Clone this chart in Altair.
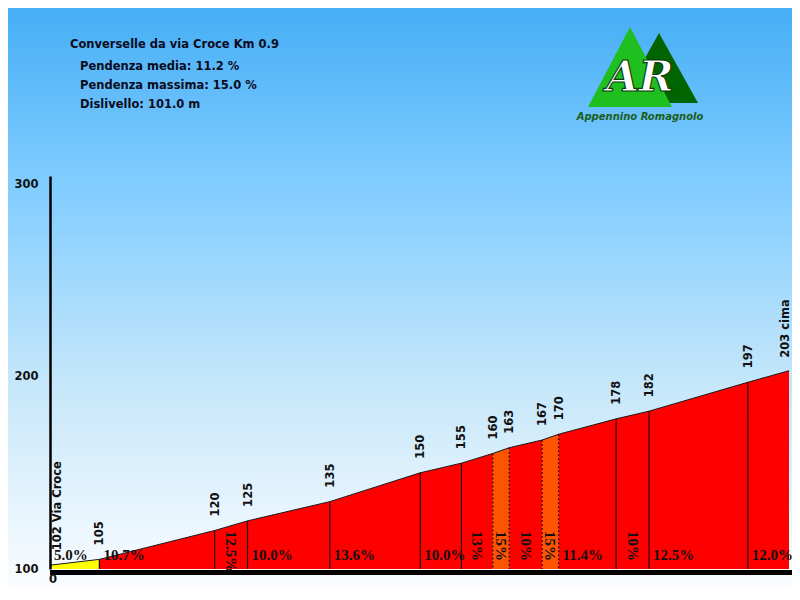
import altair as alt
import pandas as pd

# ---------------- data ----------------
dist_m = [0, 60, 200, 240, 340, 450, 500, 538, 558, 598, 618, 688, 728, 848, 898]
elev = [102, 105, 120, 125, 135, 150, 155, 160, 163, 167, 170, 178, 182, 197, 203]
elev_labels = ["102 Via Croce", "105", "120", "125", "135", "150", "155", "160",
               "163", "167", "170", "178", "182", "197", "203 cima"]
grad_values = [5.0, 10.7, 12.5, 10.0, 13.6, 10.0, 13, 15, 10, 15, 11.4, 10, 12.5, 12.0]
grad_labels = ["5.0%", "10.7%", "12.5%", "10.0%", "13.6%", "10.0%", "13%", "15%",
               "10%", "15%", "11.4%", "10%", "12.5%", "12.0%"]
y_ticks = [100, 200, 300]
x_tick_label = "0"
info_lines = ["Converselle da via Croce Km 0.9", "Pendenza media: 11.2 %",
              "Pendenza massima: 15.0 %", "Dislivello: 101.0 m"]
logo_big = "AR"
logo_small = "Appennino Romagnolo"

# ---------------- layout ----------------
PW, PH = 742, 393
PAD = {"left": 42, "top": 168, "right": 0, "bottom": 20}
xs = alt.Scale(domain=[0, 898 * PW / 739], nice=False, zero=False)
ys = alt.Scale(domain=[100, 304.16], nice=False, zero=False)
FONT = "DejaVu Sans"

yaxis = alt.Axis(
    values=y_ticks, ticks=False, tickSize=0, grid=False, domainColor="#000",
    domainWidth=2.5, labelFont=FONT, labelFontWeight="bold", labelFontSize=11.5,
    labelColor="#111", labelPadding=12, title=None, zindex=1)


def seg_color(g):
    if g < 7:
        return "#FFFF00"
    if g < 15:
        return "#FF0000"
    return "#FF5500"


seg_rows = []
for i in range(len(grad_values)):
    c = seg_color(grad_values[i])
    seg_rows.append({"seg": i, "x": dist_m[i], "y": elev[i], "base": 100, "fill": c})
    seg_rows.append({"seg": i, "x": dist_m[i + 1], "y": elev[i + 1], "base": 100, "fill": c})
seg_df = pd.DataFrame(seg_rows)

prof_df = pd.DataFrame({"x": dist_m, "y": elev})

sep_rows = []
for i in range(1, len(dist_m) - 1):
    dotted = grad_values[i - 1] >= 15 or grad_values[i] >= 15
    sep_rows.append({"x": dist_m[i], "y": elev[i], "base": 100, "dotted": dotted})
sep_df = pd.DataFrame(sep_rows)

lab_rows = []
for i in range(len(grad_values)):
    w = dist_m[i + 1] - dist_m[i]
    rot = w < 45
    lab_rows.append({"xs": dist_m[i], "xm": (dist_m[i] + dist_m[i + 1]) / 2,
                     "y": 100, "label": grad_labels[i], "rot": rot})
lab_df = pd.DataFrame(lab_rows)
hor_df = lab_df[~lab_df["rot"]]
rot_df = lab_df[lab_df["rot"]]

el_df = pd.DataFrame({"x": dist_m, "y": elev, "label": elev_labels})
one = pd.DataFrame({"a": [0]})

X = lambda f: alt.X(f, scale=xs, axis=None)
Y = lambda f: alt.Y(f, scale=ys, axis=yaxis)

grad = alt.LinearGradient(
    gradient="linear", x1=0, x2=0, y1=0, y2=1,
    stops=[alt.GradientStop(color="#46AEF5", offset=0),
           alt.GradientStop(color="#80CCFF", offset=0.3),
           alt.GradientStop(color="#C6E7FA", offset=0.65),
           alt.GradientStop(color="#FBFDFF", offset=1)])

bg = alt.Chart(one).mark_rect(color=grad).encode(
    x=alt.value(-PAD["left"]), x2=alt.value(PW),
    y=alt.value(-PAD["top"]), y2=alt.value(PH + PAD["bottom"]))

area = alt.Chart(seg_df).mark_area(interpolate="linear", opacity=1).encode(
    x=X("x:Q"),
    y=Y("y:Q"),
    y2="base:Q",
    detail="seg:N",
    color=alt.Color("fill:N", scale=None))

top_line = alt.Chart(prof_df).mark_line(color="#1a1a1a", strokeWidth=1).encode(
    x=X("x:Q"), y=Y("y:Q"))

sep_solid = alt.Chart(sep_df[~sep_df["dotted"]]).mark_rule(
    color="#2a0000", strokeWidth=1.2).encode(x=X("x:Q"), y=Y("y:Q"), y2="base:Q")
sep_dot = alt.Chart(sep_df[sep_df["dotted"]]).mark_rule(
    color="#2a0000", strokeWidth=1.2, strokeDash=[2, 2]).encode(
    x=X("x:Q"), y=Y("y:Q"), y2="base:Q")

bottom_bar = alt.Chart(one).mark_rule(color="#000", strokeWidth=5).encode(
    x=alt.value(0), x2=alt.value(PW), y=alt.value(PH + 3.5))

zero_lbl = alt.Chart(pd.DataFrame({"x": [0], "t": [x_tick_label]})).mark_text(
    font=FONT, fontWeight="bold", fontSize=11.5, color="#111", align="center",
    baseline="middle", dx=3).encode(x=X("x:Q"), y=alt.value(PH + 11), text="t:N")

hor_lbl = alt.Chart(hor_df).mark_text(
    font="Liberation Serif", fontWeight="bold", fontSize=15, color="#111",
    align="left", baseline="alphabetic", dx=4, dy=-9).encode(
    x=X("xs:Q"), y=Y("y:Q"), text="label:N")

rot_lbl = alt.Chart(rot_df).mark_text(
    font="Liberation Serif", fontWeight="bold", fontSize=15, color="#111",
    align="left", baseline="middle", angle=90, dx=-38).encode(
    x=X("xm:Q"), y=Y("y:Q"), text="label:N")

el_mid = alt.Chart(el_df.iloc[1:-1]).mark_text(
    font=FONT, fontWeight="bold", fontSize=11.5, color="#111",
    align="left", baseline="middle", angle=270, dx=14, dy=1).encode(
    x=X("x:Q"), y=Y("y:Q"), text="label:N")

el_first = alt.Chart(el_df.iloc[:1]).mark_text(
    font=FONT, fontWeight="bold", fontSize=11.5, color="#111",
    align="left", baseline="middle", angle=270, dx=15, dy=8).encode(
    x=X("x:Q"), y=Y("y:Q"), text="label:N")

el_last = alt.Chart(el_df.iloc[-1:]).mark_text(
    font=FONT, fontWeight="bold", fontSize=11.5, color="#111",
    align="left", baseline="middle", angle=270, dx=13, dy=-3).encode(
    x=X("x:Q"), y=Y("y:Q"), text="label:N")

info_layers = []
info_pos = [(20, -131), (30, -109), (30, -90), (30, -71)]
for t, (px, py) in zip(info_lines, info_pos):
    info_layers.append(alt.Chart(pd.DataFrame({"t": [t]})).mark_text(
        font=FONT, fontWeight="bold", fontSize=11.5, color="#0b0b1e",
        align="left", baseline="middle").encode(
        x=alt.value(px), y=alt.value(py), text="t:N"))

tri_dark = alt.Chart(one).mark_point(
    shape="M-1,1L0,-0.795L1,1Z", size=78 * 78, filled=True, color="#006400",
    opacity=1, strokeWidth=0).encode(x=alt.value(609), y=alt.value(-112))
tri_light = alt.Chart(one).mark_point(
    shape="M-1,1L0,-0.905L1,1Z", size=84 * 84, filled=True, color="#1FBF1F",
    opacity=1, strokeWidth=0).encode(x=alt.value(580), y=alt.value(-111))

ar_text = alt.Chart(pd.DataFrame({"t": [logo_big]})).mark_text(
    font="DejaVu Serif", fontWeight="bold", fontStyle="italic", fontSize=42,
    color="#FFFFFF", stroke="#0d3d0d", strokeWidth=1.2,
    align="center", baseline="middle").encode(
    x=alt.value(590), y=alt.value(-98), text="t:N")
ar_small = alt.Chart(pd.DataFrame({"t": [logo_small]})).mark_text(
    font=FONT, fontWeight="bold", fontStyle="italic", fontSize=10,
    color="#1b5e1b", align="center", baseline="middle").encode(
    x=alt.value(590), y=alt.value(-59), text="t:N")

chart = alt.layer(
    bg, area, top_line, sep_solid, sep_dot, bottom_bar, zero_lbl,
    hor_lbl, rot_lbl, el_mid, el_first, el_last, *info_layers,
    tri_dark, tri_light, ar_text, ar_small
).properties(
    width=PW, height=PH,
    autosize=alt.AutoSizeParams(type="none"),
    padding=PAD,
    background="#FFFFFF"
).configure_view(stroke=None)

chart.save("out.html", embed_options={"renderer": "svg", "actions": False})
